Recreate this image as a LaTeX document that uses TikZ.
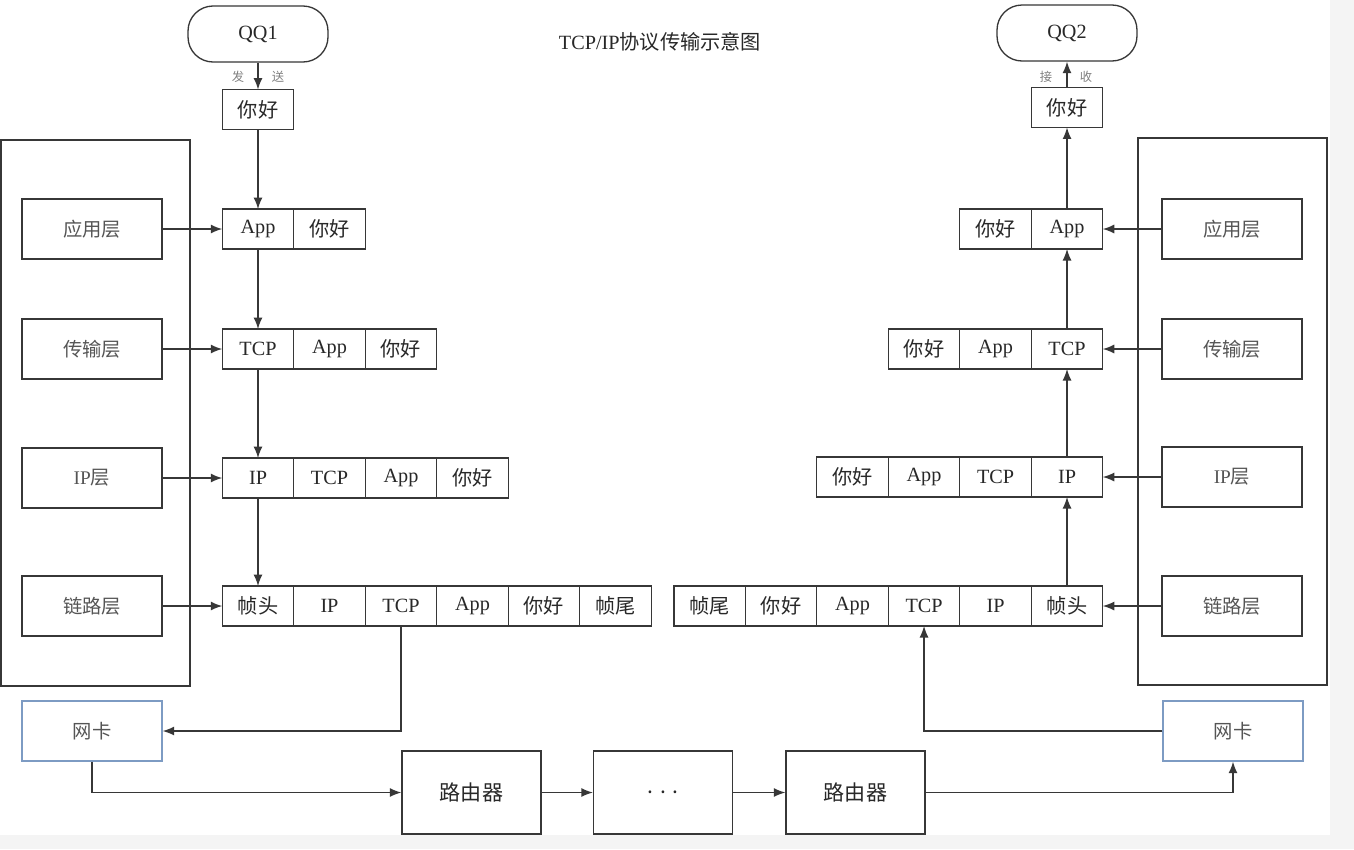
\documentclass[tikz,border=0pt]{standalone}
\usepackage{fontspec}
\setmainfont{Liberation Serif}
\newfontfamily\cjk{Noto Sans CJK SC}
\usetikzlibrary{arrows.meta,positioning}
\definecolor{LineGray}  {RGB}{ 55,  55,  55}
\definecolor{TextGray}  {RGB}{ 40,  40,  40}
\definecolor{LayerGray} {RGB}{ 85,  85,  85}
\definecolor{NicBlue}   {RGB}{125, 155, 195}
\definecolor{PageGray}  {RGB}{244, 244, 244}
\tikzset{
  cell/.style={draw=LineGray, line width=0.75pt, minimum width=1.43cm,
    minimum height=0.8cm, inner sep=0pt, outer sep=0pt, text=TextGray,
    font=\fontsize{11.5}{11.5}\selectfont},
  layer/.style={draw=LineGray, line width=0.75pt, minimum width=2.8cm,
    minimum height=1.2cm, inner sep=0pt, text=LayerGray,
    font=\fontsize{11}{11}\selectfont},
  nic/.style={layer, draw=NicBlue},
  router/.style={draw=LineGray, line width=0.75pt, minimum width=2.78cm,
    minimum height=1.66cm, inner sep=0pt, text=TextGray,
    font=\cjk\fontsize{12}{12}\selectfont},
  qq/.style={draw=LineGray, line width=0.75pt, rounded corners=0.5cm,
    minimum width=2.8cm, minimum height=1.12cm, inner sep=0pt,
    text=TextGray, font=\fontsize{11.5}{11.5}\selectfont},
  frame/.style={draw=LineGray, line width=0.8pt},
  flow/.style={draw=LineGray, line width=0.75pt, -{Latex[length=2.3mm,width=1.8mm]}},
  tag/.style={text=gray, inner sep=0pt, font=\cjk\fontsize{7}{7}\selectfont}
}
\begin{document}
\begin{tikzpicture}[x=0.02cm, y=-0.02cm]
  \fill[PageGray] (0,0) rectangle (1354,849);
  \fill[white] (0,0) rectangle (1330,835);
  \node[text=TextGray, font=\fontsize{11.5}{11.5}\selectfont] (title) at (660,42)
    {TCP/IP{\cjk 协议传输示意图}};
  % layer frames
  \draw[frame] (1,140) rectangle (190,686);
  \draw[frame] (1138,138) rectangle (1327,685);
  % sender side
  \node[qq] (qq1) at (258,34) {QQ1};
  \node[cell] (msgL) at (258,109.5) {\cjk 你好};
  \node[tag] (sendA) at (238,77) {发};
  \node[tag] (sendB) at (278,77) {送};
  \node[layer] (appL)  at (92,229) {\cjk 应用层};
  \node[layer] (tranL) at (92,349) {\cjk 传输层};
  \node[layer] (ipL)   at (92,478) {IP{\cjk 层}};
  \node[layer] (linkL) at (92,606) {\cjk 链路层};
  \node[cell] (aL1) at (258,229) {App};
  \node[cell, right=0pt of aL1] (aL2) {\cjk 你好};
  \node[cell] (tL1) at (258,349) {TCP};
  \node[cell, right=0pt of tL1] (tL2) {App};
  \node[cell, right=0pt of tL2] (tL3) {\cjk 你好};
  \node[cell] (iL1) at (258,478) {IP};
  \node[cell, right=0pt of iL1] (iL2) {TCP};
  \node[cell, right=0pt of iL2] (iL3) {App};
  \node[cell, right=0pt of iL3] (iL4) {\cjk 你好};
  \node[cell] (kL1) at (258,606) {\cjk 帧头};
  \node[cell, right=0pt of kL1] (kL2) {IP};
  \node[cell, right=0pt of kL2] (kL3) {TCP};
  \node[cell, right=0pt of kL3] (kL4) {App};
  \node[cell, right=0pt of kL4] (kL5) {\cjk 你好};
  \node[cell, right=0pt of kL5] (kL6) {\cjk 帧尾};
  % receiver side
  \node[qq] (qq2) at (1067,33) {QQ2};
  \node[cell] (msgR) at (1067,107.5) {\cjk 你好};
  \node[tag] (recvA) at (1046,77) {接};
  \node[tag] (recvB) at (1086,77) {收};
  \node[layer] (appR)  at (1232,229) {\cjk 应用层};
  \node[layer] (tranR) at (1232,349) {\cjk 传输层};
  \node[layer] (ipR)   at (1232,477) {IP{\cjk 层}};
  \node[layer] (linkR) at (1232,606) {\cjk 链路层};
  \node[cell] (aR1) at (1067,229) {App};
  \node[cell, left=0pt of aR1] (aR2) {\cjk 你好};
  \node[cell] (tR1) at (1067,349) {TCP};
  \node[cell, left=0pt of tR1] (tR2) {App};
  \node[cell, left=0pt of tR2] (tR3) {\cjk 你好};
  \node[cell] (iR1) at (1067,477) {IP};
  \node[cell, left=0pt of iR1] (iR2) {TCP};
  \node[cell, left=0pt of iR2] (iR3) {App};
  \node[cell, left=0pt of iR3] (iR4) {\cjk 你好};
  \node[cell] (kR1) at (1067,606) {\cjk 帧头};
  \node[cell, left=0pt of kR1] (kR2) {IP};
  \node[cell, left=0pt of kR2] (kR3) {TCP};
  \node[cell, left=0pt of kR3] (kR4) {App};
  \node[cell, left=0pt of kR4] (kR5) {\cjk 你好};
  \node[cell, left=0pt of kR5] (kR6) {\cjk 帧尾};
  % network
  \node[nic] (nicL) at (92,731) {\cjk 网卡};
  \node[nic] (nicR) at (1233,731) {\cjk 网卡};
  \node[router] (rt1)  at (471.5,792.5) {路由器};
  \node[router] (dots) at (663,792.5) {. . .};
  \node[router] (rt2)  at (855.5,792.5) {路由器};
  % connectors
  \draw[flow] (qq1) -- (msgL);
  \draw[flow] (msgL) -- (aL1);
  \draw[flow] (aL1) -- (tL1);
  \draw[flow] (tL1) -- (iL1);
  \draw[flow] (iL1) -- (kL1);
  \draw[flow] (appL) -- (aL1);
  \draw[flow] (tranL) -- (tL1);
  \draw[flow] (ipL) -- (iL1);
  \draw[flow] (linkL) -- (kL1);
  \draw[flow] (kL3.south) |- (nicL.east);
  \draw[flow] (nicL.south) |- (rt1.west);
  \draw[flow] (rt1) -- (dots);
  \draw[flow] (dots) -- (rt2);
  \draw[flow] (rt2.east) -| (nicR.south);
  \draw[flow] (nicR.west) -| (kR3.south);
  \draw[flow] (kR1) -- (iR1);
  \draw[flow] (iR1) -- (tR1);
  \draw[flow] (tR1) -- (aR1);
  \draw[flow] (aR1) -- (msgR);
  \draw[flow] (msgR) -- (qq2);
  \draw[flow] (appR) -- (aR1);
  \draw[flow] (tranR) -- (tR1);
  \draw[flow] (ipR) -- (iR1);
  \draw[flow] (linkR) -- (kR1);
\end{tikzpicture}
\end{document}
